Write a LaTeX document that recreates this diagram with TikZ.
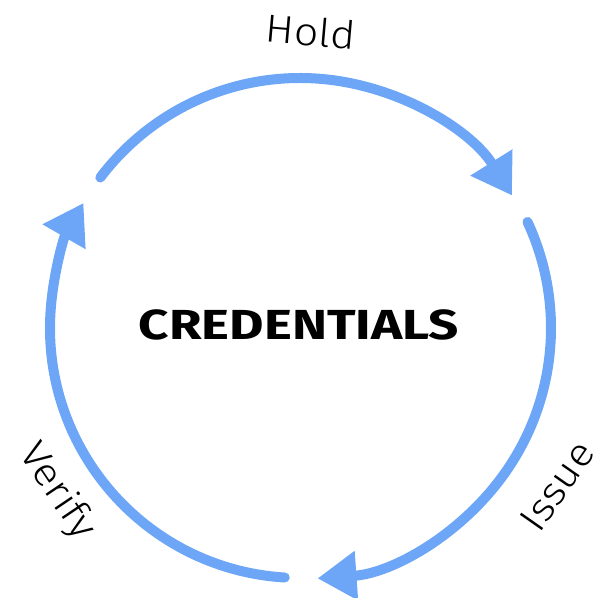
\documentclass[tikz,border=0pt]{standalone}
\usepackage{fontspec}
\setmainfont{Fira Sans}
\newfontfamily\lightfont[FakeStretch=1.1]{Fira Sans Light}
\newfontfamily\titlefont[FakeStretch=1.26]{Fira Sans}
\usetikzlibrary{arrows.meta}
\definecolor{arcblue}{RGB}{109,166,247}
\begin{document}
\begin{tikzpicture}[x=1pt,y=1pt,
  cyc/.style={draw=arcblue, line width=10pt, line cap=round, -{Triangle[length=39pt,width=47pt]}},
  lbl/.style={font=\lightfont\fontsize{39}{39}\selectfont, text=black, inner sep=0pt}]
\useasboundingbox (0,0) rectangle (596,598);
\coordinate (c) at (300,270);
\coordinate (hs) at ([shift={(143:250)}]c);
\coordinate (is) at ([shift={(25:251)}]c);
\coordinate (vs) at ([shift={(-93.5:250)}]c);
\node[font=\titlefont\bfseries\fontsize{42}{42}\selectfont, inner sep=0pt] (title) at (299,273) {CREDENTIALS};
\draw[cyc] (hs) arc[start angle=143, end angle=32, radius=250];
\draw[cyc] (is) arc[start angle=25, end angle=-86, radius=251];
\draw[cyc] (vs) arc[start angle=-93.5, end angle=-210, radius=250];
\node[lbl, rotate=-5] (hold) at (311,566.5) {Hold};
\node[lbl, rotate=55] (issue) at (557,112) {Issue};
\node[lbl, rotate=-56] (verify) at (57,106.5) {Verify};
\end{tikzpicture}
\end{document}
